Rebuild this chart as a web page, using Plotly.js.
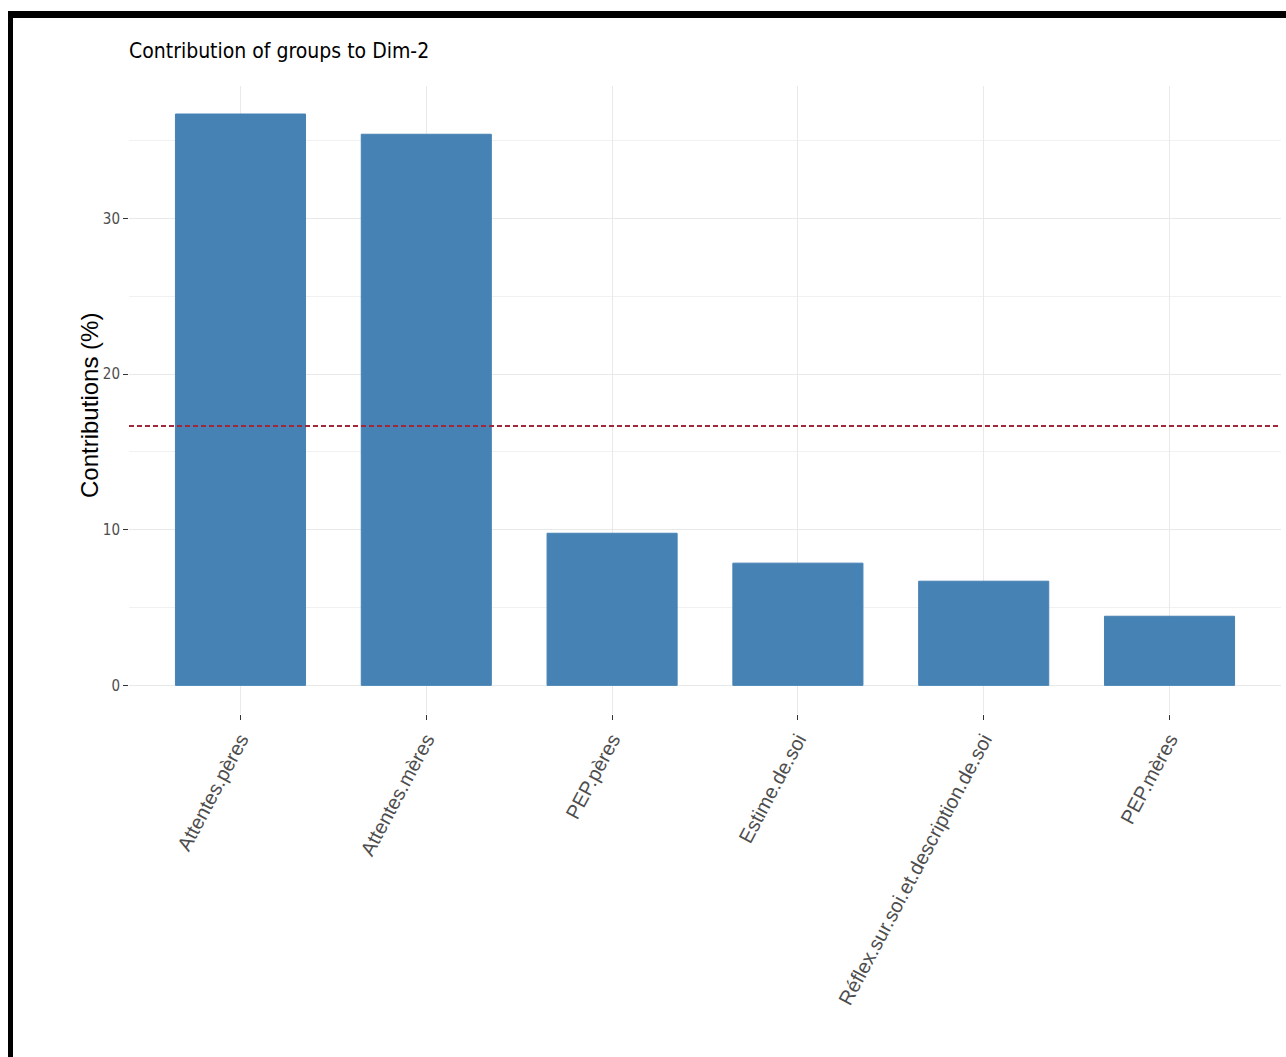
<!DOCTYPE html>
<html>
<head>
<meta charset="utf-8">
<script src="https://cdn.plot.ly/plotly-3.0.1.min.js"></script>
<style>
  html, body { margin: 0; padding: 0; background: #fff; }
  #wrap { position: relative; width: 1286px; height: 1057px; overflow: hidden; }
  #chart { position: absolute; left: 0; top: 0; width: 1286px; height: 1057px; }
  .bt { position: absolute; left: 8px; top: 11px; width: 1278px; height: 7px; background: #000; }
  .bl { position: absolute; left: 8px; top: 11px; width: 5px; height: 1046px; background: #000; }
</style>
</head>
<body>
<div id="wrap">
  <div id="chart"></div>
  <div class="bt"></div>
  <div class="bl"></div>
</div>
<script>
// Data
const groups = [
  "Attentes.pères",
  "Attentes.mères",
  "PEP.pères",
  "Estime.de.soi",
  "Réflex.sur.soi.et.description.de.soi",
  "PEP.mères"
];
const contributions = [36.7, 35.4, 9.77, 7.85, 6.69, 4.44];
const expectedLevel = 100 / 6;   // reference dashed line
const yTicks = [0, 10, 20, 30];
const yTickText = ["0", "10", "20", "30"];

const condensed = "DejaVu Sans Condensed, Liberation Sans Narrow, Arial, sans-serif";

const bars = {
  type: "bar",
  x: groups,
  y: contributions,
  width: 0.7,
  marker: { color: "#4682B4", line: { color: "#4682B4", width: 1 } },
  hoverinfo: "x+y",
  showlegend: false
};

const refLine = {
  type: "scatter",
  mode: "lines",
  x: [-0.6, groups.length - 0.4],
  y: [expectedLevel, expectedLevel],
  xaxis: "x2",
  line: { color: "#a0283a", width: 2, dash: "5px,3px" },
  hoverinfo: "skip",
  showlegend: false
};

const layout = {
  width: 1286,
  height: 1057,
  margin: { l: 129, r: 5, t: 86, b: 343 },
  paper_bgcolor: "#ffffff",
  plot_bgcolor: "#ffffff",
  title: {
    text: "Contribution of groups to Dim-2",
    font: { family: condensed, size: 21, color: "#000000" },
    xref: "paper", x: 0, xanchor: "left",
    yref: "container", y: 1 - 51 / 1057, yanchor: "middle"
  },
  bargap: 0.3,
  xaxis: {
    type: "category",
    categoryorder: "array",
    categoryarray: groups,
    range: [-0.6, groups.length - 0.4],
    showgrid: true,
    gridcolor: "#e9e9e9",
    gridwidth: 1,
    zeroline: false,
    showline: false,
    ticks: "outside",
    ticklen: 5,
    tickwidth: 1,
    tickcolor: "#333333",
    tickangle: -62,
    tickfont: { family: "Liberation Sans, Arial, sans-serif", size: 20, color: "#4d4d4d" },
    fixedrange: true
  },
  xaxis2: {
    overlaying: "x",
    range: [-0.6, groups.length - 0.4],
    visible: false,
    fixedrange: true
  },
  yaxis: {
    range: [-1.84, 38.5],
    tickvals: yTicks,
    ticktext: yTickText,
    showgrid: true,
    gridcolor: "#e9e9e9",
    gridwidth: 1,
    minor: { dtick: 5, tick0: 0, showgrid: true, gridcolor: "#f1f1f1", gridwidth: 1, ticks: "" },
    zeroline: false,
    showline: false,
    ticks: "outside",
    ticklen: 5,
    tickwidth: 1,
    tickcolor: "#333333",
    tickfont: { family: condensed, size: 15, color: "#4d4d4d" },
    fixedrange: true
  },
  annotations: [{
    text: "Contributions (%)",
    textangle: -90,
    xref: "paper", x: (89 - 129) / 1152, xanchor: "center",
    yref: "paper", y: (714 - 406) / 628, yanchor: "middle",
    showarrow: false,
    font: { family: "Liberation Sans, Arial, sans-serif", size: 24, color: "#000000" }
  }]
};

Plotly.newPlot("chart", [bars, refLine], layout, { displayModeBar: false });
</script>
</body>
</html>
